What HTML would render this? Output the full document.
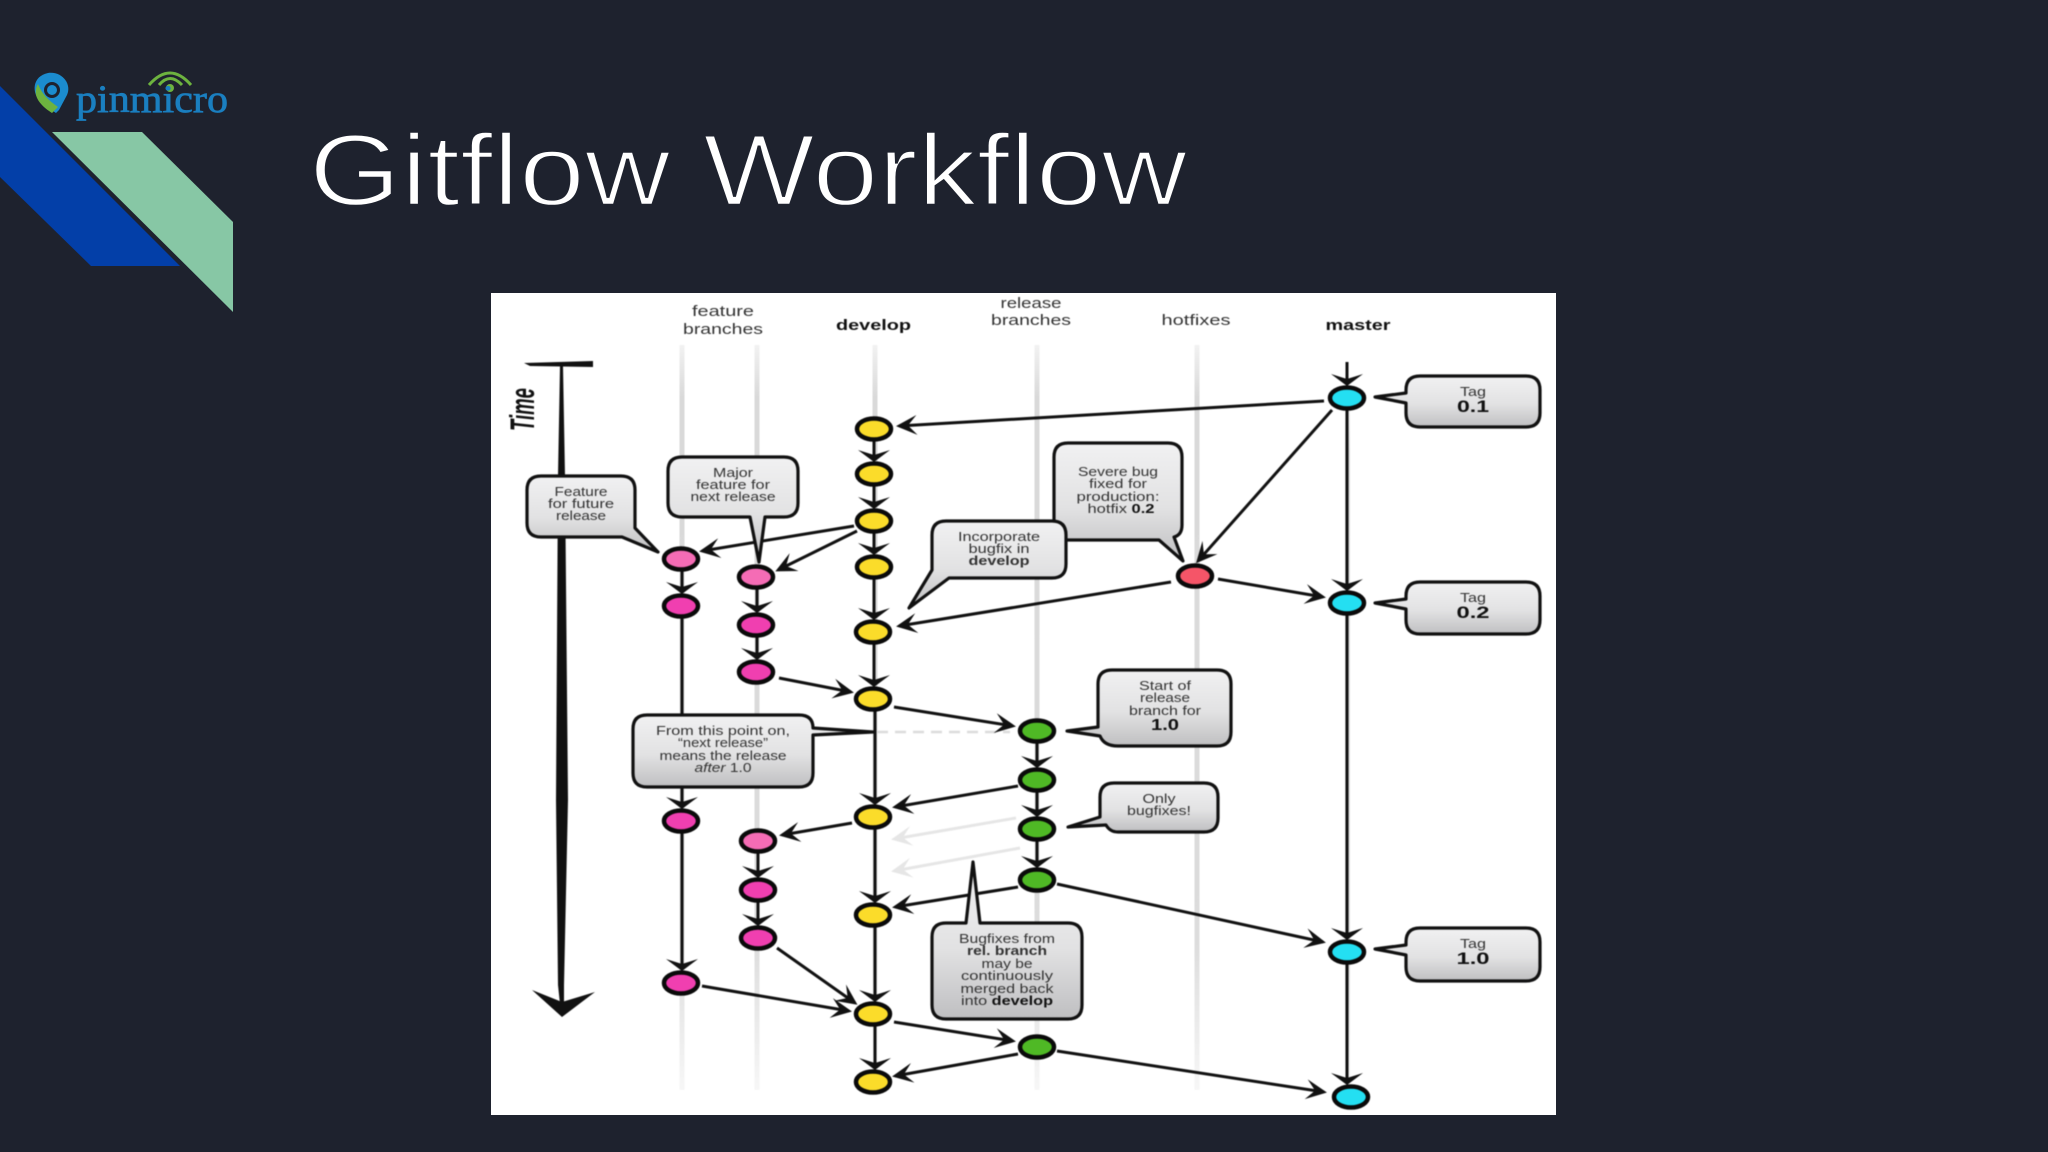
<!DOCTYPE html>
<html><head><meta charset="utf-8"><title>Gitflow Workflow</title>
<style>
html,body{margin:0;padding:0;background:#1e222e}
svg{display:block}
text{font-family:"Liberation Sans",sans-serif}
.l{font-size:14px;fill:#333;text-anchor:middle}
.h{font-size:15px;fill:#333;text-anchor:middle}
.b{font-weight:bold;fill:#111}
.t{font-size:13px;fill:#333;text-anchor:middle}
.n{stroke:#0a0a0a;stroke-width:4.5}
.y{fill:#fbdc2a}.p{fill:#f56cb5}.m{fill:#f03fb0}.g{fill:#4fb925}.c{fill:#24dff2}.r{fill:#f55568}
.a{stroke:#111;stroke-width:3;fill:none}
.bb{fill:url(#bg);stroke:#111;stroke-width:3.2;stroke-linejoin:round}
</style></head>
<body>
<svg width="2048" height="1152" viewBox="0 0 2048 1152" xmlns="http://www.w3.org/2000/svg">
<defs>
<linearGradient id="bg" x1="0" y1="0" x2="0" y2="1"><stop offset="0" stop-color="#f1f1f2"/><stop offset=".55" stop-color="#e2e2e3"/><stop offset="1" stop-color="#bfbfc1"/></linearGradient>
<linearGradient id="gl" x1="0" y1="0" x2="0" y2="1"><stop offset="0" stop-color="#f2f2f2"/><stop offset=".07" stop-color="#d9d9d9"/><stop offset=".8" stop-color="#dcdcdc"/><stop offset="1" stop-color="#f7f7f7"/></linearGradient>
<marker id="h" markerUnits="userSpaceOnUse" viewBox="-24 -14 28 28" markerWidth="28" markerHeight="28" refX="-3" refY="0" orient="auto"><polygon points="0,0 -21,-10 -12,0 -21,10" fill="#111"/></marker>
<marker id="v" markerUnits="userSpaceOnUse" viewBox="-16 -18 20 36" markerWidth="20" markerHeight="36" refX="-3" refY="0" orient="auto"><polygon points="0,0 -12,-16 -7,0 -12,16" fill="#111"/></marker>
<marker id="e" markerUnits="userSpaceOnUse" viewBox="-24 -14 28 28" markerWidth="28" markerHeight="28" refX="-3" refY="0" orient="auto"><polygon points="0,0 -21,-10 -12,0 -21,10" fill="#e6e6e6"/></marker>
</defs>
<rect width="2048" height="1152" fill="#1e222e"/>

<!-- slide decoration -->
<polygon points="0,86 180,266 91,266 0,177" fill="#033fa8"/>
<polygon points="52,132 142,132 233,222 233,312" fill="#87c7a5"/>

<!-- logo -->
<path d="M42 104 C30 92 33 76 48 73 C62 71 72 84 67 95 L59 110 L56 113Z" fill="#1b8ccf"/>
<path d="M38 84 C32 94 38 104 52 113 L58 107 C48 100 42 94 38 84Z" fill="#6db33f"/>
<circle cx="52" cy="90" r="6.5" fill="none" stroke="#1e222e" stroke-width="3"/>
<path d="M149 85 Q170 61 191 85" fill="none" stroke="#6db33f" stroke-width="3"/>
<path d="M159 85 Q170 72 182 85" fill="none" stroke="#6db33f" stroke-width="3"/>
<circle cx="170" cy="88" r="4" fill="#6db33f"/>
<text x="76" y="112" textLength="152" lengthAdjust="spacingAndGlyphs" style="font-family:'Liberation Serif',serif;font-size:39px;fill:#1a7fc0;stroke:#1a7fc0;stroke-width:.7">pinmicro</text>

<!-- title -->
<text x="309" y="205" textLength="878" lengthAdjust="spacingAndGlyphs" style="font-size:101px;fill:#fff;stroke:#1e222e;stroke-width:2.4">Gitflow Workflow</text>

<!-- diagram panel -->
<rect x="491" y="293" width="1065" height="822" fill="#fff"/>
<g style="filter:blur(.55px)">
<!-- lanes -->
<g fill="url(#gl)">
<rect x="679.5" y="345" width="5" height="745"/>
<rect x="754.5" y="345" width="5" height="745"/>
<rect x="872.5" y="345" width="5" height="745"/>
<rect x="1034.5" y="345" width="5" height="745"/>
<rect x="1194.5" y="345" width="5" height="745"/>
<rect x="1345" y="400" width="5" height="700"/>
</g>
<line x1="877" y1="732" x2="1010" y2="732" stroke="#dcdcdc" stroke-width="2.5" stroke-dasharray="11 7"/>

<!-- time -->
<text transform="translate(534 431) rotate(-90)" textLength="43" lengthAdjust="spacingAndGlyphs" style="font-size:34px;font-weight:bold;font-style:italic;fill:#111">Time</text>
<polygon points="524,363 593,361 593,367 530,366" fill="#111"/>
<polygon points="560,366 563,366 565,476 568,800 564,985 564,1004 560,1004 558,985 556,800 558,476" fill="#111"/>
<polygon points="532,990 562,1002 595,992 562,1017" fill="#111"/>

<!-- vertical commits -->
<g class="a">
<line x1="874" y1="441" x2="874" y2="459" marker-end="url(#v)"/>
<line x1="874" y1="486" x2="874" y2="506" marker-end="url(#v)"/>
<line x1="874" y1="533" x2="874" y2="552" marker-end="url(#v)"/>
<line x1="874" y1="579" x2="874" y2="617" marker-end="url(#v)"/>
<line x1="874" y1="644" x2="874" y2="684" marker-end="url(#v)"/>
<line x1="875" y1="711" x2="875" y2="802" marker-end="url(#v)"/>
<line x1="875" y1="829" x2="875" y2="900" marker-end="url(#v)"/>
<line x1="875" y1="927" x2="875" y2="999" marker-end="url(#v)"/>
<line x1="875" y1="1026" x2="875" y2="1067" marker-end="url(#v)"/>
<line x1="682" y1="571" x2="682" y2="591" marker-end="url(#v)"/>
<line x1="682" y1="618" x2="682" y2="806" marker-end="url(#v)"/>
<line x1="682" y1="833" x2="682" y2="968" marker-end="url(#v)"/>
<line x1="757" y1="589" x2="757" y2="610" marker-end="url(#v)"/>
<line x1="757" y1="637" x2="757" y2="657" marker-end="url(#v)"/>
<line x1="758" y1="853" x2="758" y2="875" marker-end="url(#v)"/>
<line x1="758" y1="902" x2="758" y2="923" marker-end="url(#v)"/>
<line x1="1037" y1="743" x2="1037" y2="765" marker-end="url(#v)"/>
<line x1="1037" y1="792" x2="1037" y2="814" marker-end="url(#v)"/>
<line x1="1037" y1="841" x2="1037" y2="865" marker-end="url(#v)"/>
<line x1="1347" y1="362" x2="1347" y2="383" marker-end="url(#v)"/>
<line x1="1347" y1="410" x2="1347" y2="588" marker-end="url(#v)"/>
<line x1="1347" y1="615" x2="1347" y2="937" marker-end="url(#v)"/>
<line x1="1347" y1="964" x2="1347" y2="1082" marker-end="url(#v)"/>
</g>

<!-- merges -->
<g class="a">
<line x1="1324" y1="401" x2="899" y2="426" marker-end="url(#h)"/>
<line x1="1332" y1="410" x2="1198" y2="561" marker-end="url(#h)"/>
<line x1="1218" y1="579" x2="1323" y2="597" marker-end="url(#h)"/>
<line x1="1171" y1="582" x2="899" y2="626" marker-end="url(#h)"/>
<line x1="854" y1="526" x2="702" y2="551" marker-end="url(#h)"/>
<line x1="857" y1="531" x2="778" y2="570" marker-end="url(#h)"/>
<line x1="779" y1="678" x2="851" y2="692" marker-end="url(#h)"/>
<line x1="894" y1="707" x2="1013" y2="726" marker-end="url(#h)"/>
<line x1="1018" y1="786" x2="895" y2="807" marker-end="url(#h)"/>
<line x1="852" y1="823" x2="782" y2="835" marker-end="url(#h)"/>
<line x1="1018" y1="887" x2="895" y2="907" marker-end="url(#h)"/>
<line x1="1057" y1="884" x2="1323" y2="942" marker-end="url(#h)"/>
<line x1="777" y1="948" x2="855" y2="1003" marker-end="url(#h)"/>
<line x1="702" y1="986" x2="849" y2="1011" marker-end="url(#h)"/>
<line x1="894" y1="1022" x2="1013" y2="1041" marker-end="url(#h)"/>
<line x1="1018" y1="1054" x2="895" y2="1076" marker-end="url(#h)"/>
<line x1="1057" y1="1051" x2="1324" y2="1092" marker-end="url(#h)"/>
<line x1="1016" y1="818" x2="894" y2="839" style="stroke:#e6e6e6" marker-end="url(#e)"/>
<line x1="1020" y1="848" x2="894" y2="871" style="stroke:#e6e6e6" marker-end="url(#e)"/>
</g>

<!-- commits -->
<g class="n">
<ellipse class="y" cx="874" cy="429" rx="17" ry="10.5"/>
<ellipse class="y" cx="874" cy="474" rx="17" ry="10.5"/>
<ellipse class="y" cx="874" cy="521" rx="17" ry="10.5"/>
<ellipse class="y" cx="874" cy="567" rx="17" ry="10.5"/>
<ellipse class="y" cx="873" cy="632" rx="17" ry="10.5"/>
<ellipse class="y" cx="873" cy="699" rx="17" ry="10.5"/>
<ellipse class="y" cx="873" cy="817" rx="17" ry="10.5"/>
<ellipse class="y" cx="873" cy="915" rx="17" ry="10.5"/>
<ellipse class="y" cx="873" cy="1014" rx="17" ry="10.5"/>
<ellipse class="y" cx="873" cy="1082" rx="17" ry="10.5"/>
<ellipse class="p" cx="681" cy="559" rx="17" ry="10.5"/>
<ellipse class="m" cx="681" cy="606" rx="17" ry="10.5"/>
<ellipse class="m" cx="681" cy="821" rx="17" ry="10.5"/>
<ellipse class="m" cx="681" cy="983" rx="17" ry="10.5"/>
<ellipse class="p" cx="756" cy="577" rx="17" ry="10.5"/>
<ellipse class="m" cx="756" cy="625" rx="17" ry="10.5"/>
<ellipse class="m" cx="756" cy="672" rx="17" ry="10.5"/>
<ellipse class="p" cx="758" cy="841" rx="17" ry="10.5"/>
<ellipse class="m" cx="758" cy="890" rx="17" ry="10.5"/>
<ellipse class="m" cx="758" cy="938" rx="17" ry="10.5"/>
<ellipse class="g" cx="1037" cy="731" rx="17" ry="10.5"/>
<ellipse class="g" cx="1037" cy="780" rx="17" ry="10.5"/>
<ellipse class="g" cx="1037" cy="829" rx="17" ry="10.5"/>
<ellipse class="g" cx="1037" cy="880" rx="17" ry="10.5"/>
<ellipse class="g" cx="1037" cy="1047" rx="17" ry="10.5"/>
<ellipse class="r" cx="1195" cy="576" rx="17" ry="10.5"/>
<ellipse class="c" cx="1347" cy="398" rx="17" ry="10.5"/>
<ellipse class="c" cx="1347" cy="603" rx="17" ry="10.5"/>
<ellipse class="c" cx="1347" cy="952" rx="17" ry="10.5"/>
<ellipse class="c" cx="1351" cy="1097" rx="17" ry="10.5"/>
</g>

<!-- callouts -->
<path class="bb" d="M541 476H621Q635 476 635 490V528L658 552L622 537H541Q527 537 527 523V490Q527 476 541 476Z"/>
<path class="bb" d="M682 457H784Q798 457 798 471V503Q798 517 784 517H765L759 562L750 517H682Q668 517 668 503V471Q668 457 682 457Z"/>
<path class="bb" d="M1068 443H1168Q1182 443 1182 457V525Q1182 535 1174 537L1183 561L1159 540H1068Q1054 540 1054 526V457Q1054 443 1068 443Z"/>
<path class="bb" d="M946 521H1052Q1066 521 1066 535V564Q1066 578 1052 578H949L909 608L932 570V535Q932 521 946 521Z"/>
<path class="bb" d="M1420 376H1526Q1540 376 1540 390V413Q1540 427 1526 427H1420Q1406 427 1406 413V403L1375 397L1406 393V390Q1406 376 1420 376Z"/>
<path class="bb" d="M1420 582H1526Q1540 582 1540 596V620Q1540 634 1526 634H1420Q1406 634 1406 620V609L1375 603L1406 599V596Q1406 582 1420 582Z"/>
<path class="bb" d="M1420 928H1526Q1540 928 1540 942V967Q1540 981 1526 981H1420Q1406 981 1406 967V955L1375 949L1406 945V942Q1406 928 1420 928Z"/>
<path class="bb" d="M1112 670H1217Q1231 670 1231 684V732Q1231 746 1217 746H1118Q1104 746 1100 736L1067 731L1098 727V684Q1098 670 1112 670Z"/>
<path class="bb" d="M1114 783H1204Q1218 783 1218 797V818Q1218 832 1204 832H1118Q1110 832 1106 825L1068 827L1100 817V797Q1100 783 1114 783Z"/>
<path class="bb" d="M647 715H799Q813 715 813 728L873 732L813 735V773Q813 787 799 787H647Q633 787 633 773V729Q633 715 647 715Z"/>
<path class="bb" d="M946 923H966L973 862L980 923H1068Q1082 923 1082 937V1005Q1082 1019 1068 1019H946Q932 1019 932 1005V937Q932 923 946 923Z"/>

<!-- headers -->
<text class="h" x="723" y="316" textLength="62" lengthAdjust="spacingAndGlyphs">feature</text>
<text class="h" x="723" y="334" textLength="80" lengthAdjust="spacingAndGlyphs">branches</text>
<text class="h b" x="873.5" y="330" textLength="75" lengthAdjust="spacingAndGlyphs">develop</text>
<text class="h" x="1031" y="308" textLength="61" lengthAdjust="spacingAndGlyphs">release</text>
<text class="h" x="1031" y="325" textLength="80" lengthAdjust="spacingAndGlyphs">branches</text>
<text class="h" x="1196" y="325" textLength="69" lengthAdjust="spacingAndGlyphs">hotfixes</text>
<text class="h b" x="1358" y="330" textLength="65" lengthAdjust="spacingAndGlyphs">master</text>

<!-- callout text -->
<text class="t" x="581" y="496" textLength="53" lengthAdjust="spacingAndGlyphs">Feature</text>
<text class="t" x="581" y="508" textLength="66" lengthAdjust="spacingAndGlyphs">for future</text>
<text class="t" x="581" y="520" textLength="50" lengthAdjust="spacingAndGlyphs">release</text>
<text class="t" x="733" y="477" textLength="40" lengthAdjust="spacingAndGlyphs">Major</text>
<text class="t" x="733" y="489" textLength="74" lengthAdjust="spacingAndGlyphs">feature for</text>
<text class="t" x="733" y="501" textLength="85" lengthAdjust="spacingAndGlyphs">next release</text>
<text class="t" x="1118" y="476" textLength="80" lengthAdjust="spacingAndGlyphs">Severe bug</text>
<text class="t" x="1118" y="488" textLength="58" lengthAdjust="spacingAndGlyphs">fixed for</text>
<text class="t" x="1118" y="501" textLength="83" lengthAdjust="spacingAndGlyphs">production:</text>
<text class="t" x="1121" y="513" textLength="67" lengthAdjust="spacingAndGlyphs">hotfix <tspan class="b">0.2</tspan></text>
<text class="t" x="999" y="541" textLength="82" lengthAdjust="spacingAndGlyphs">Incorporate</text>
<text class="t" x="999" y="553" textLength="61" lengthAdjust="spacingAndGlyphs">bugfix in</text>
<text class="t b" x="999" y="565" textLength="61" lengthAdjust="spacingAndGlyphs">develop</text>
<text class="t" x="1473" y="396" textLength="26" lengthAdjust="spacingAndGlyphs">Tag</text>
<text class="h b" style="font-size:17px" x="1473" y="412" textLength="32" lengthAdjust="spacingAndGlyphs">0.1</text>
<text class="t" x="1473" y="602" textLength="26" lengthAdjust="spacingAndGlyphs">Tag</text>
<text class="h b" style="font-size:17px" x="1473" y="618" textLength="33" lengthAdjust="spacingAndGlyphs">0.2</text>
<text class="t" x="1473" y="948" textLength="26" lengthAdjust="spacingAndGlyphs">Tag</text>
<text class="h b" style="font-size:17px" x="1473" y="964" textLength="33" lengthAdjust="spacingAndGlyphs">1.0</text>
<text class="t" x="1165" y="690" textLength="52" lengthAdjust="spacingAndGlyphs">Start of</text>
<text class="t" x="1165" y="702" textLength="50" lengthAdjust="spacingAndGlyphs">release</text>
<text class="t" x="1165" y="715" textLength="72" lengthAdjust="spacingAndGlyphs">branch for</text>
<text class="h b" style="font-size:16px" x="1165" y="730" textLength="28" lengthAdjust="spacingAndGlyphs">1.0</text>
<text class="t" x="1159" y="803" textLength="33" lengthAdjust="spacingAndGlyphs">Only</text>
<text class="t" x="1159" y="815" textLength="64" lengthAdjust="spacingAndGlyphs">bugfixes!</text>
<text class="t" x="723" y="735" textLength="134" lengthAdjust="spacingAndGlyphs">From this point on,</text>
<text class="t" x="723" y="747" textLength="90" lengthAdjust="spacingAndGlyphs">“next release”</text>
<text class="t" x="723" y="760" textLength="127" lengthAdjust="spacingAndGlyphs">means the release</text>
<text class="t" x="723" y="772" textLength="57" lengthAdjust="spacingAndGlyphs"><tspan font-style="italic">after</tspan> 1.0</text>
<text class="t" x="1007" y="943" textLength="96" lengthAdjust="spacingAndGlyphs">Bugfixes from</text>
<text class="t b" x="1007" y="955" textLength="80" lengthAdjust="spacingAndGlyphs">rel. branch</text>
<text class="t" x="1007" y="968" textLength="51" lengthAdjust="spacingAndGlyphs">may be</text>
<text class="t" x="1007" y="980" textLength="92" lengthAdjust="spacingAndGlyphs">continuously</text>
<text class="t" x="1007" y="993" textLength="93" lengthAdjust="spacingAndGlyphs">merged back</text>
<text class="t" x="1007" y="1005" textLength="92" lengthAdjust="spacingAndGlyphs">into <tspan class="b">develop</tspan></text>
</g>
</svg>
</body></html>
